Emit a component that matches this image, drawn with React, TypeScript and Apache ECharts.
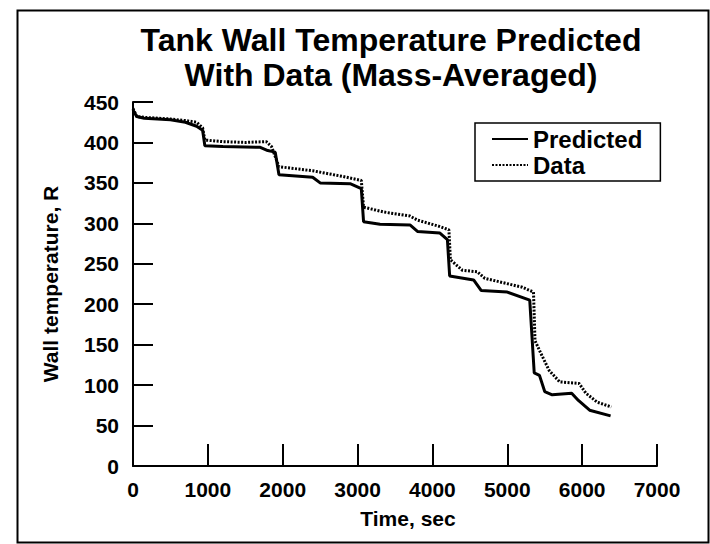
import React, { useEffect, useRef } from "react";
import * as echarts from "echarts";

const predTime = [0, 50, 150, 500, 700, 850, 930, 960, 1200, 1700, 1800, 1900, 1950, 2400, 2500, 2900, 3050, 3080, 3300, 3700, 3800, 4100, 4200, 4230, 4550, 4650, 5000, 5300, 5360, 5430, 5500, 5600, 5860, 5950, 6100, 6380];
const predTemp = [440, 432, 430, 428, 425, 420, 415, 396, 395, 394, 390, 388, 360, 357, 350, 349, 343, 302, 299, 298, 290, 288, 280, 235, 230, 217, 215, 205, 115, 112, 92, 88, 90, 81, 69, 62];

const dataTime = [0, 50, 150, 500, 700, 850, 930, 960, 1200, 1500, 1780, 1850, 1950, 2400, 2800, 3050, 3080, 3350, 3700, 3800, 4100, 4220, 4240, 4400, 4600, 4700, 5200, 5350, 5370, 5450, 5560, 5700, 5960, 6050, 6200, 6390];
const dataTemp = [442, 432, 431, 429, 427, 425, 418, 403, 401, 400, 401, 395, 370, 365, 358, 353, 320, 314, 309, 304, 296, 292, 255, 242, 240, 232, 221, 215, 155, 139, 118, 104, 102, 90, 79, 73];

const seriesNames = ["Predicted", "Data"];
const titleLines = ["Tank Wall Temperature Predicted", "With Data (Mass-Averaged)"];
const xName = "Time, sec";
const yName = "Wall temperature, R";

const FONT = "'Liberation Sans', Arial, Helvetica, sans-serif";

export default function App() {
  const ref = useRef<HTMLDivElement>(null);
  useEffect(() => {
    if (!ref.current) return;
    const chart = echarts.init(ref.current, undefined, { renderer: "svg" });
    const pred = predTime.map((t, i) => [t, predTemp[i]]);
    const dat = dataTime.map((t, i) => [t, dataTemp[i]]);
    chart.setOption({
      animation: false,
      backgroundColor: "#ffffff",
      textStyle: { fontFamily: FONT },
      title: {
        text: titleLines.join("\n"),
        left: 386,
        textAlign: "center",
        top: 17,
        textStyle: { fontSize: 32, fontWeight: "bold", color: "#000", lineHeight: 35, fontFamily: FONT },
      },
      grid: { left: 133, right: 53, top: 102, bottom: 78, containLabel: false },
      legend: {
        data: seriesNames,
        orient: "vertical",
        left: 475,
        top: 123,
        borderColor: "#000",
        borderWidth: 1.5,
        borderRadius: 0,
        padding: [4, 18, 4, 16],
        itemWidth: 36,
        itemHeight: 14,
        itemGap: 2,
        itemStyle: { color: "rgba(0,0,0,0)", borderWidth: 0, opacity: 0 },
        textStyle: { fontSize: 24, fontWeight: "bold", color: "#000", fontFamily: FONT },
      },
      xAxis: {
        type: "value",
        min: 0,
        max: 7000,
        interval: 1000,
        name: xName,
        nameLocation: "middle",
        nameGap: 42,
        nameTextStyle: { fontSize: 21, fontWeight: "bold", color: "#000", padding: [0, 0, 0, 26], fontFamily: FONT },
        axisLine: { lineStyle: { color: "#000", width: 2 } },
        axisTick: { inside: true, length: 22, lineStyle: { color: "#000", width: 2 } },
        axisLabel: { fontSize: 21, fontWeight: "bold", color: "#000", margin: 13, fontFamily: FONT, formatter: (v: number) => String(v) },
        splitLine: { show: false },
      },
      yAxis: {
        type: "value",
        min: 0,
        max: 450,
        interval: 50,
        name: yName,
        nameLocation: "middle",
        nameGap: 72,
        nameTextStyle: { fontSize: 21, fontWeight: "bold", color: "#000", fontFamily: FONT },
        axisLine: { show: true, lineStyle: { color: "#000", width: 2 } },
        axisTick: { inside: true, length: 20, lineStyle: { color: "#000", width: 2 } },
        axisLabel: { fontSize: 21, fontWeight: "bold", color: "#000", margin: 14, fontFamily: FONT },
        splitLine: { show: false },
      },
      series: [
        {
          name: seriesNames[0],
          type: "line",
          data: pred,
          symbol: "none",
          lineStyle: { color: "#000", width: 3 },
          itemStyle: { color: "#000" },
        },
        {
          name: seriesNames[1],
          type: "line",
          data: dat,
          symbol: "none",
          lineStyle: { color: "#000", width: 3, type: [2, 1.5] },
          itemStyle: { color: "#000" },
        },
      ],
      graphic: [
        {
          type: "rect",
          left: 15,
          top: 8,
          shape: { width: 691, height: 532 },
          style: { fill: "none", stroke: "#000", lineWidth: 2 },
          silent: true,
        },
      ],
    });
    return () => chart.dispose();
  }, []);
  return <div ref={ref} style={{ width: 710, height: 544, position: "absolute", left: 0, top: 0 }} />;
}
